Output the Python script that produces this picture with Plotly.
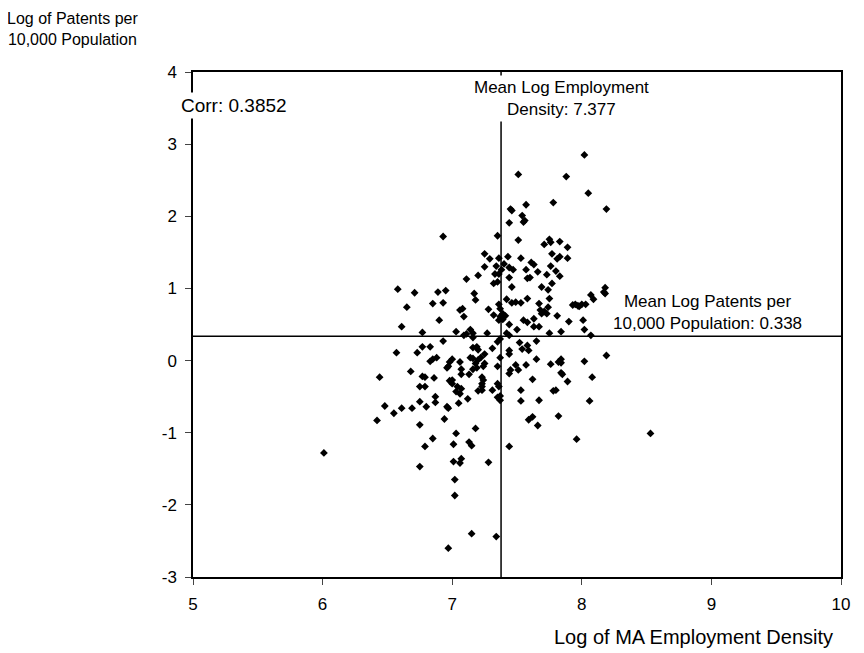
import plotly.graph_objects as go

# Log of MA employment density (x) and log of patents per 10,000 population (y)
emp_density = [
    8.02, 7.51, 7.88, 8.05, 8.19, 7.78, 7.45, 7.46, 7.57, 7.54, 7.56, 7.55, 7.44, 6.93,
    7.35, 7.51, 7.75, 7.76, 7.71, 7.83, 7.89, 7.83, 7.81, 7.89, 7.77,
    7.25, 7.29, 7.36, 7.43, 7.53, 7.25, 7.34, 7.40, 7.44, 7.47, 7.38, 7.61, 7.63, 7.57,
    7.66, 7.76, 7.80, 7.20, 7.11, 7.33, 7.36, 7.44, 7.58, 7.60, 7.73, 7.83,
    8.18, 8.17, 8.18, 8.07, 8.09, 7.93, 7.95, 7.97, 7.98, 8.00, 8.03, 7.90, 8.01, 8.02,
    8.07, 7.84, 7.84, 7.84, 8.02, 8.19, 7.85, 7.84, 7.89, 8.08, 8.06,
    7.32, 7.35, 7.46, 7.69, 7.74, 7.77, 6.95, 7.17, 7.18, 6.93, 7.06, 7.08, 7.09, 7.28,
    7.32, 7.36, 7.37, 7.39, 7.37, 7.36, 7.39, 7.42, 7.46, 7.49, 7.53, 7.58, 7.41, 7.44,
    7.55, 7.58, 7.63, 7.67, 7.68, 7.69, 7.71, 7.73, 7.74, 7.75, 7.81, 7.67, 7.63, 7.50,
    7.42, 7.35, 7.37, 7.44, 7.03, 7.09, 7.11, 7.14, 7.16, 7.16, 7.27, 6.93, 7.75, 7.52,
    7.54, 7.58, 7.59, 7.44, 7.44, 7.65, 7.16, 7.19, 7.20, 7.31, 7.25, 7.22, 7.20, 7.16,
    7.14, 7.00, 6.98, 6.97, 6.96, 7.06, 7.07, 7.18, 7.19, 7.16, 7.24, 7.25, 7.37, 7.35,
    7.49, 7.45, 7.44, 7.51, 7.57, 7.65, 7.76, 7.82, 7.62, 7.07, 7.13, 7.23, 7.24, 7.23,
    7.00, 6.98, 7.00, 7.04, 7.03, 7.07, 7.06, 7.23, 7.23, 7.20, 7.31, 7.35, 7.36, 7.53,
    7.37, 7.35, 7.37, 7.12, 6.96, 6.97, 7.53, 7.67, 7.78, 7.80, 7.59, 7.62,
    6.58, 6.71, 6.89, 6.65, 6.85, 6.90, 6.61, 6.77, 6.57, 6.73, 6.77, 6.83, 6.83, 6.85,
    6.88, 6.68, 6.44, 6.77, 6.79, 6.86, 6.75, 6.79, 6.87, 6.75, 6.87, 6.48, 6.61, 6.69,
    6.80, 6.55, 6.42,
    7.05, 6.75, 6.94, 7.18, 7.03, 6.85, 6.79, 7.01, 7.13, 7.15, 7.44, 7.66, 7.82, 7.96,
    8.53, 6.01, 6.75, 7.01, 7.07, 7.06, 7.28, 7.02, 7.02, 7.15, 7.34, 6.97,
]
patents = [
    2.85, 2.58, 2.55, 2.32, 2.10, 2.19, 2.10, 2.08, 2.16, 2.01, 1.94, 1.92, 1.91, 1.72,
    1.73, 1.67, 1.68, 1.64, 1.61, 1.65, 1.57, 1.44, 1.41, 1.42, 1.48,
    1.48, 1.41, 1.42, 1.44, 1.42, 1.30, 1.31, 1.34, 1.29, 1.26, 1.26, 1.36, 1.33, 1.26,
    1.23, 1.31, 1.24, 1.18, 1.13, 1.20, 1.20, 1.15, 1.14, 1.15, 1.19, 1.17,
    1.01, 0.95, 0.93, 0.91, 0.85, 0.77, 0.78, 0.76, 0.75, 0.78, 0.78, 0.54, 0.56, 0.43,
    0.35, 0.40, 0.02, -0.03, -0.01, 0.07, -0.19, -0.17, -0.29, -0.23, -0.56,
    1.07, 1.09, 1.02, 1.02, 0.98, 1.07, 0.97, 0.93, 0.84, 0.80, 0.70, 0.72, 0.61, 0.71,
    0.63, 0.78, 0.72, 0.65, 0.61, 0.56, 0.57, 0.85, 0.80, 0.81, 0.80, 0.86, 0.62, 0.50,
    0.56, 0.53, 0.58, 0.79, 0.70, 0.65, 0.68, 0.65, 0.74, 0.86, 0.62, 0.47, 0.47, 0.43,
    0.38, 0.26, 0.30, 0.35, 0.40, 0.35, 0.37, 0.43, 0.38, 0.32, 0.38, 0.27, 0.38, 0.25,
    0.16, 0.21, 0.14, 0.14, 0.09, 0.27, 0.18, 0.19, 0.15, 0.17, 0.09, 0.04, 0.01, 0.03,
    0.04, 0.02, -0.02, -0.08, -0.10, -0.02, -0.12, -0.04, -0.10, -0.12, -0.08, -0.04, 0.04, -0.08,
    -0.06, -0.13, -0.18, -0.13, -0.06, 0.02, -0.05, -0.02, -0.26, -0.19, -0.19, -0.23, -0.27, -0.32,
    -0.27, -0.28, -0.32, -0.36, -0.43, -0.39, -0.46, -0.36, -0.41, -0.42, -0.41, -0.32, -0.36, -0.41,
    -0.49, -0.51, -0.55, -0.53, -0.64, -0.66, -0.56, -0.55, -0.42, -0.41, -0.82, -0.78,
    0.99, 0.94, 0.95, 0.74, 0.79, 0.56, 0.47, 0.39, 0.11, 0.11, 0.19, 0.19, -0.01, 0.02,
    0.04, -0.15, -0.23, -0.22, -0.23, -0.24, -0.36, -0.36, -0.50, -0.57, -0.58, -0.63, -0.66, -0.66,
    -0.64, -0.73, -0.83,
    -0.59, -0.89, -0.81, -0.94, -1.01, -1.08, -1.19, -1.16, -1.13, -1.18, -1.19, -0.90, -0.77, -1.09,
    -1.01, -1.28, -1.47, -1.40, -1.36, -1.42, -1.41, -1.65, -1.87, -2.40, -2.44, -2.60,
]

mean_x = 7.377
mean_y = 0.338
corr_text = "Corr: 0.3852"
x_ticks = [5, 6, 7, 8, 9, 10]
x_tick_text = ["5", "6", "7", "8", "9", "10"]
y_ticks = [-3, -2, -1, 0, 1, 2, 3, 4]
y_tick_text = ["-3", "-2", "-1", "0", "1", "2", "3", "4"]

FONT = "Liberation Sans, Arial, sans-serif"

W, H = 856, 645
L, T, PW, PH = 185, 64, 648, 505

fig = go.Figure()
fig.add_trace(go.Scatter(
    x=emp_density, y=patents, mode="markers",
    marker=dict(symbol="diamond", size=6, color="black"),
    showlegend=False, hoverinfo="x+y",
))

fig.add_shape(type="line", xref="x", yref="y", x0=mean_x, x1=mean_x, y0=-3, y1=4,
              line=dict(color="black", width=1.5), layer="above")
fig.add_shape(type="line", xref="x", yref="y", x0=5, x1=10, y0=mean_y, y1=mean_y,
              line=dict(color="black", width=1.5), layer="above")

fig.add_annotation(x=5, y=3.53, xref="x", yref="y", text=corr_text, showarrow=False,
                   xanchor="left", yanchor="middle", xshift=-15,
                   font=dict(size=19, color="black"), bgcolor="white", borderpad=2)
fig.add_annotation(x=7.84, y=3.63, xref="x", yref="y",
                   text="Mean Log Employment<br>Density: " + str(mean_x), showarrow=False,
                   align="center", xanchor="center", yanchor="middle",
                   font=dict(size=17, color="black"), bgcolor="white", borderpad=2)
fig.add_annotation(x=8.97, y=0.67, xref="x", yref="y",
                   text="Mean Log Patents per<br>10,000 Population: " + str(mean_y), showarrow=False,
                   align="center", xanchor="center", yanchor="middle",
                   font=dict(size=17, color="black"), bgcolor="white", borderpad=1)

fig.add_annotation(x=(64 - L) / PW, y=1 + (T - 21) / PH, xref="paper", yref="paper",
                   text="Log of Patents per<br>10,000 Population", showarrow=False,
                   align="center", xanchor="center", yanchor="middle",
                   font=dict(size=16, color="black"))
fig.add_annotation(x=(827 - L) / PW, y=-(629 - T - PH) / PH, xref="paper", yref="paper",
                   text="Log of MA Employment Density", showarrow=False,
                   xanchor="right", yanchor="middle", font=dict(size=20, color="black"))

fig.update_xaxes(range=[5, 10], tickvals=x_ticks, ticktext=x_tick_text, ticks="outside", ticklen=6,
                 ticklabelstandoff=5,
                 showline=True, linecolor="black", linewidth=1.5, mirror=True,
                 showgrid=False, zeroline=False, tickfont=dict(size=17, color="black"))
fig.update_yaxes(range=[-3, 4], tickvals=y_ticks, ticktext=y_tick_text, ticks="outside", ticklen=6,
                 ticklabelstandoff=5,
                 showline=True, linecolor="black", linewidth=1.5, mirror=True,
                 showgrid=False, zeroline=False, tickfont=dict(size=17, color="black"))

fig.update_layout(
    width=W, height=H,
    margin=dict(l=L, r=W - L - PW, t=T, b=H - T - PH),
    plot_bgcolor="white", paper_bgcolor="white",
    font=dict(family=FONT, color="black"),
)

fig.write_html("out.html")
